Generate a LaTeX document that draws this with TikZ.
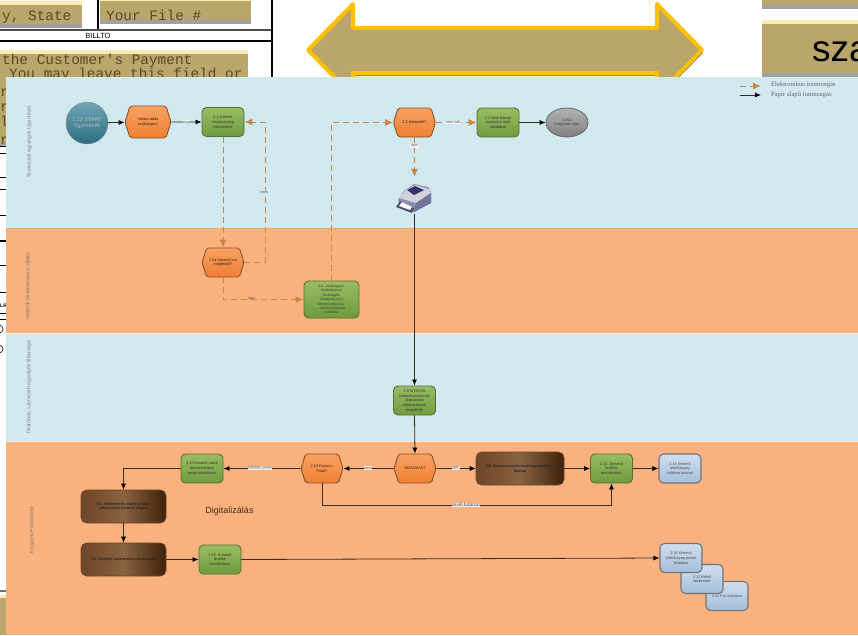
\documentclass[tikz,border=0pt]{standalone}
\usepackage{fontspec}
\setmainfont{Liberation Sans}
\newfontfamily\typefont{Liberation Mono}
\newfontfamily\legfont{Liberation Serif}
\usepackage{xcolor}
\usetikzlibrary{arrows.meta,positioning,calc,shapes.symbols,shapes.geometric}
\definecolor{tanfill}{HTML}{BAA56B}
\definecolor{tanpale}{HTML}{FFEBB0}
\definecolor{tangray}{HTML}{A0A0A0}
\definecolor{goldline}{HTML}{FFC000}
\definecolor{bandblue}{HTML}{D2E8EF}
\definecolor{bandorange}{HTML}{F9B27F}
\definecolor{flowel}{HTML}{C98644}
\definecolor{flowpap}{HTML}{3A2A20}
\definecolor{typeink}{HTML}{5A4A22}
\definecolor{hextop}{HTML}{F8A263}
\definecolor{hexbot}{HTML}{EE7F33}
\definecolor{hexline}{HTML}{8A5226}
\definecolor{greentop}{HTML}{98BC62}
\definecolor{greenbot}{HTML}{6F9B3E}
\definecolor{greenline}{HTML}{56702F}
\definecolor{brownl}{HTML}{6E4526}
\definecolor{brownm}{HTML}{8A6343}
\definecolor{brownr}{HTML}{3F2209}
\definecolor{doctop}{HTML}{D0DEEC}
\definecolor{docbot}{HTML}{A3BEDC}
\definecolor{startop}{HTML}{6FA5B5}
\definecolor{startbot}{HTML}{2B6D80}
\tikzset{
  lanelabel/.style={rotate=90,font=\fontsize{5}{5.5}\selectfont,text=#1},
  hexbox/.style={signal,signal to=east and west,signal pointer angle=145,rounded corners=2pt,draw=hexline,line width=0.9pt,
    top color=hextop,bottom color=hexbot,minimum width=42pt,minimum height=29pt,
    inner sep=0pt,align=center,text=black!75!brown,font=\fontsize{3.8}{4.7}\selectfont},
  greenbox/.style={rectangle,rounded corners=4.5pt,draw=greenline,line width=0.9pt,
    top color=greentop,bottom color=greenbot,minimum width=42pt,minimum height=29pt,
    inner sep=0pt,align=center,text=black!80,font=\fontsize{3.8}{4.7}\selectfont},
  brownbox/.style={rectangle,rounded corners=5.5pt,draw=brownl,line width=0.6pt,
    left color=brownl,right color=brownr,middle color=brownm,minimum width=85pt,minimum height=33pt,
    inner sep=0pt,align=center,text=black!85,font=\bfseries\fontsize{3.8}{4.7}\selectfont},
  docbox/.style={rectangle,rounded corners=4.5pt,draw=black!55,line width=1.1pt,
    top color=doctop,bottom color=docbot,minimum width=42pt,minimum height=29pt,
    inner sep=0pt,align=center,text=black!70,font=\fontsize{3.8}{4.7}\selectfont},
  elflow/.style={draw=flowel,dash pattern=on 6pt off 4pt,line width=1pt,
    -{Latex[length=8pt,width=7pt,flowel]}},
  papflow/.style={draw=flowpap,line width=0.8pt,-{Latex[length=6pt,width=5pt,black]}},
  flowlabel/.style={fill=white,fill opacity=0.8,text opacity=1,inner sep=0.6pt,text=black!65,font=\fontsize{3.8}{4}\selectfont},
  darklabel/.style={inner sep=0pt,text=black!65,font=\fontsize{3.8}{4}\selectfont},
  typeline/.style={anchor=base west,inner sep=0pt,text=typeink,font=\typefont\fontsize{14.4}{15}\selectfont},
}
% tan panel with pale top edge and gray lower edge
\newcommand{\tanpanel}[4]{
  \fill[tanpale] (#1,#2) rectangle (#3,#2+4);
  \fill[tanfill] (#1,#2+4) rectangle (#3,#4-4);
  \fill[tangray] (#1,#4-4) rectangle (#3,#4);
}
\begin{document}
\begin{tikzpicture}[x=1pt,y=-1pt]
	\useasboundingbox (0,0) rectangle (858,635);
	\fill[white] (0,0) rectangle (858,635);

	% form behind the chart
	\tanpanel{0}{1}{82}{28}
	\tanpanel{100}{-3}{251}{24}
	\tanpanel{0}{50}{248}{146}
	\node[typeline] (fstate) at (2,20) {y, State};
	\node[typeline] (ffile) at (106,20) {Your File \#};
	\node[typeline] (fpay) at (2,64) {the Customer's Payment};
	\node[typeline] (fleave) at (9,78) {You may leave this field or};
	\node[typeline] (fr1) at (0,96) {r};
	\node[typeline] (fr2) at (0,111) {r};
	\node[typeline] (fr3) at (0,126) {l};
	\node[typeline] (fr4) at (0,144) {r};
	\draw[line width=1.2pt] (98,0) -- (98,30);
	\draw[line width=1.2pt,black!70] (0,30) -- (272,30);
	\draw[line width=1.2pt] (0,41) -- (272,41);
	\draw[line width=1.4pt] (272,0) -- (272,80);
	\node[inner sep=0pt,font=\fontsize{7.5}{8}\selectfont] (billto) at (98,36) {BILLTO};
	\foreach \ly/\lw in {146/0.8,153/0.6,177/0.6,189/0.6,215/0.6,241/1.2,265/0.6,292/0.8,313/0.6,319/0.6}
		\draw[line width=\lw pt] (0,\ly) -- (8,\ly);
	\node[inner sep=0pt,anchor=west,font=\bfseries\fontsize{5}{5}\selectfont] (flr) at (0,306) {LR};
	\draw[line width=0.6pt] (-1,329) circle (4);
	\draw[line width=0.6pt] (-1,349) circle (4);
	\fill[tangray!70!black] (0,590) rectangle (8,592);
	\fill[tanpale] (0,595) rectangle (8,598);
	\fill[tanfill] (0,598) rectangle (8,635);

	% double arrow and right panels
	\fill[tangray!80!black] (309,53) -- (354,7) -- (354,32) -- (658,32) -- (658,7) -- (703,53) -- (658,99) -- (658,76) -- (354,76) -- (354,99) -- cycle;
	\filldraw[fill=tanfill,draw=goldline,line width=4pt,line join=round]
		(308,50) -- (353,4) -- (353,28) -- (657,28) -- (657,4) -- (702,50) -- (657,96) -- (657,73) -- (353,73) -- (353,96) -- cycle;
	\fill[tanfill] (762,-4) rectangle (858,5);
	\fill[tangray] (762,5) rectangle (858,9);
	\tanpanel{762}{20}{858}{77}
	\node[anchor=base west,inner sep=0pt,font=\fontsize{37}{38}\selectfont] (sza) at (812,61) {sza};

	% lanes
	\fill[bandblue] (6,77) rectangle (858,228);
	\fill[bandorange] (6,228) rectangle (858,333);
	\fill[bandblue] (6,333) rectangle (858,441);
	\fill[bandorange] (6,441) rectangle (858,635);
	\draw[orange!30!bandorange,line width=0.8pt] (6,228) -- (858,228);
	\draw[orange!15!white,line width=0.8pt] (6,333) -- (858,333);
	\draw[orange!15!white,line width=0.8pt] (6,441) -- (858,441);
	\node[lanelabel=black!50] (lane1) at (29,142) {Szervezeti egységek Ügyintézői};
	\node[lanelabel=black!55] (lane2) at (28,286) {Vezetők (kiadmányozó, ellátó)};
	\node[lanelabel=black!50] (lane3) at (29,387) {Iktatóhely, szervezeti egységek titkársága};
	\node[lanelabel=black!55] (lane4) at (32,530) {Központi Postabontó};

	% legend
	\coordinate (lega) at (740,86);
	\coordinate (legb) at (761,86);
	\coordinate (legc) at (740,95);
	\coordinate (legd) at (761,95);
	\draw[elflow] (lega) -- (legb);
	\draw[papflow] (legc) -- (legd);
	\node[anchor=west,inner sep=0pt,text=black!60,font=\legfont\fontsize{6.6}{7}\selectfont] (legel) at (771,85) {Elektronikus iratmozgás};
	\node[anchor=west,inner sep=0pt,text=black!60,font=\legfont\fontsize{6.6}{7}\selectfont] (legpap) at (771,95) {Papír alapú iratmozgás};

	% steps
	\node[circle,minimum size=42pt,inner sep=0pt,draw=black!45,line width=0.4pt,top color=startop,bottom color=startbot,
		align=center,text=white!75!black,font=\fontsize{5.4}{6.5}\selectfont] (start) at (87,123) {1.22 START\\Ügyintézés};
	\node[hexbox,minimum width=46pt,minimum height=32pt] (qvisz) at (148,122) {Vihasz adás\\szükséges?};
	\node[greenbox] (g21) at (223,122) {2.1 Kimenő\\munkaanyag\\elkészítése};
	\node[hexbox] (q22) at (414.5,122.5) {2.2 Iktatandó?};
	\node[greenbox] (g23) at (498,122.5) {2.3 Nem iktatott\\kimenő e-mail\\elküldése};
	\node[ellipse,minimum width=42pt,minimum height=29pt,inner sep=0pt,draw=black!60,line width=0.8pt,top color=black!30,bottom color=black!50,
		align=center,text=black!75,font=\fontsize{3.8}{4.8}\selectfont] (stop) at (567,122.5) {1.300\\Folyamat vége};
	\node[hexbox] (q25) at (223,262.5) {2.5a Kimenő irat\\megfelelő?};
	\node[greenbox,minimum width=55pt,minimum height=37pt,font=\fontsize{3.4}{4.4}\selectfont] (g26) at (331.5,299.5)
		{2.6. Jóváhagyás,\\Kiadmányozó\\jóváhagyás\\(kiadmányozó)\\kimenő előzetése\\- záró/re módosult\\rendelése};
	\node[greenbox] (g29) at (414.5,400.5) {2.9 IKTATÁS\\kiadmányozásnak\\alap postai\\előkészítések\\megtétele};
	\node[hexbox] (qbiz) at (415,468.5) {BIZALMAS?};
	\node[hexbox] (q213) at (322,468.5) {2.13 Postai v.\\Futár?};
	\node[brownbox,minimum width=88pt] (d5) at (520,468.5) {D5. Bizalmas szervezeti egységekhez\\iktatva};
	\node[greenbox] (g215) at (611.5,468.5) {2.15. Kimenő\\levelek\\borítékolása};
	\node[docbox] (d214) at (680,468.5) {2.14 Kimenő\\jelelőanyag\\küldése futárral};
	\node[greenbox] (g215b) at (202,468.5) {2.15 Kimenő nálok\\bármesítelése\\posta feladására};
	\node[brownbox] (d1) at (123.5,506.5) {D1. Bekezmelés előkészítése,\\szkennelési kimenő állapot};
	\node[brownbox] (d2) at (123.5,559.5) {D2. Kilégett szkennelés végállomás};
	\node[greenbox] (g210) at (220,559.5) {2.10. Kimenő\\levelek\\borítékolása};
	\node[docbox] (d211) at (727,596) {2.11 Fax feladása};
	\node[docbox] (d212) at (702,579) {2.12 Belső\\kézbesítés};
	\node[docbox] (d216) at (681,558) {2.16 Kimenő\\jelelőanyag postai\\feladása};
	\node[inner sep=0pt,text=black!65!brown,font=\fontsize{9}{10}\selectfont] (digi) at (229.5,511) {Digitalizálás};

	% printer
	\fill[blue!30!black!45!white] (398,200) -- (404,191) -- (414,184) -- (428,187) -- (431,192) -- (431,203) -- (414,212) -- (410,211) -- (400,204) -- cycle;
	\fill[blue!22!black!18!white] (399,198) -- (406,190) -- (415,185) -- (429,189) -- (431,193) -- (416,203) -- cycle;
	\fill[blue!30!black!55!white] (416,203) -- (431,193) -- (431,203) -- (414,212) -- cycle;
	\fill[blue!30!black!80] (407,190) -- (415,186) -- (424,190) -- (414,195) -- cycle;
	\fill[blue!20!black!70] (396,207) -- (400,201) -- (414,208) -- (412,213) -- cycle;
	\fill[white] (399,206) -- (402,202) -- (412,207) -- (410,210) -- cycle;
	\node[minimum width=35pt,minimum height=37pt,inner sep=0pt] (printer) at (414.5,195.5) {};

	% electronic flow
	\coordinate (c25r) at (265,192);
	\draw[elflow] (g21.south) -- (q25.north);
	\draw[elflow] (q25.east) -| (c25r) |- (g21.east);
	\draw[elflow] (q25.south) |- (g26.west);
	\draw[elflow] (g26.north) |- (q22.west);
	\draw[elflow] (q22.east) -- (g23.west);
	\draw[elflow] (q22.south) -- (printer.north);

	% paper flow
	\draw[papflow] (start) -- (qvisz);
	\draw[papflow] (qvisz) -- (g21);
	\draw[papflow] (g23) -- (stop);
	\draw[papflow] (printer.south) -- (g29.north);
	\draw[papflow] (g29.south) -- (qbiz.north);
	\draw[papflow] (qbiz) -- (d5);
	\draw[papflow] (d5) -- (g215);
	\draw[papflow] (g215) -- (d214);
	\draw[papflow] (qbiz) -- (q213);
	\draw[papflow] (q213) -- (g215b);
	\draw[papflow] (g215b.west) -| (d1.north);
	\draw[papflow] (d1) -- (d2);
	\draw[papflow] (d2) -- (g210);
	\draw[papflow] (g210.east) -- (d216.west);
	\coordinate (cbot) at (466,505);
	\draw[papflow] (q213.south) |- (cbot) -| (g215.south);

	% flow labels
	\node[flowlabel,text=white,fill=none] (l1) at (187,122) {igen};
	\node[darklabel] (l2) at (264,192) {nem};
	\node[darklabel] (l3) at (252,299) {igen};
	\node[flowlabel] (l4) at (453,122.5) {nem kell};
	\node[flowlabel] (l5) at (414.5,146) {igen};
	\node[flowlabel] (l6) at (368,468) {nem};
	\node[flowlabel] (l7) at (456,468) {igen};
	\node[flowlabel] (l8) at (260,468) {helyben posta};
	\node[flowlabel,font=\fontsize{5}{6}\selectfont] (l9) at (466,505) {levél futárral};
\end{tikzpicture}
\end{document}
